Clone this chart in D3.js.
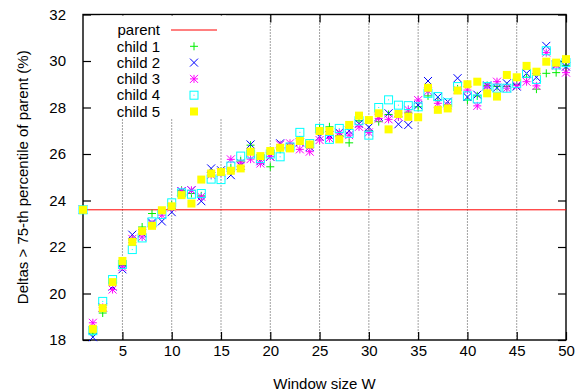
<!DOCTYPE html>
<html>
<head>
<meta charset="utf-8">
<script src="https://cdn.jsdelivr.net/npm/d3@7"></script>
<style>
  body { margin: 0; background: #fff; }
  text { font-family: "Liberation Sans", Arial, sans-serif; }
</style>
</head>
<body>
<div id="chart"></div>
<script>
// Window sizes (x categories)
const windowSizes = [1, 2, 3, 4, 5, 6, 7, 8, 9, 10, 11, 12, 13, 14, 15, 16, 17, 18, 19, 20,
    21, 22, 23, 24, 25, 26, 27, 28, 29, 30, 31, 32, 33, 34, 35, 36, 37, 38, 39, 40,
    41, 42, 43, 44, 45, 46, 47, 48, 49, 50];

const parentValue = 23.6;

const child1 = [23.6, 18.3, 19.16, 20.4, 21.2, 22.3, 22.86, 23.44, 23.5, 23.8, 24.44, 24.3, 24.2, 25.2, 25.25,
    25.4, 25.7, 26.38, 25.8, 25.45, 26.2, 26.35, 26.6, 26.4, 27.1, 27.17, 26.8, 26.48, 27.43, 27.0,
    27.39, 27.7, 27.6, 27.8, 28.03, 28.5, 28.3, 28.1, 28.8, 28.32, 28.5, 28.95, 28.9, 28.9, 29.0,
    29.3, 28.79, 29.47, 29.5, 29.8];
const child2 = [23.6, 18.12, 19.4, 20.3, 21.04, 22.53, 22.6, 23.05, 23.1, 23.5, 24.4, 24.44, 23.97, 25.38, 25.3,
    25.09, 25.5, 26.41, 25.69, 25.88, 26.46, 26.3, 26.5, 26.3, 26.74, 26.8, 26.92, 27.0, 27.3, 27.15,
    27.6, 27.75, 27.28, 27.25, 28.1, 29.14, 28.45, 28.25, 29.26, 28.45, 28.55, 28.95, 28.85, 29.04, 28.9,
    29.47, 29.3, 30.65, 29.85, 29.76];
const child3 = [23.6, 18.74, 19.4, 20.17, 21.14, 22.35, 22.43, 23.0, 23.37, 23.7, 24.4, 24.44, 24.16, 25.1, 25.2,
    25.77, 25.62, 25.78, 25.59, 25.9, 26.4, 26.46, 26.2, 26.1, 26.6, 26.67, 26.9, 26.81, 27.17, 26.93,
    27.53, 27.49, 27.6, 27.9, 28.32, 28.7, 28.18, 28.1, 28.75, 28.75, 28.07, 28.9, 29.11, 28.83, 28.95,
    29.11, 28.93, 30.36, 29.8, 29.5];
const child4 = [23.6, 18.4, 19.66, 20.6, 21.25, 21.89, 22.39, 23.08, 23.4, 23.9, 24.33, 24.27, 24.3, 24.92, 24.9,
    25.48, 25.91, 26.0, 25.8, 26.0, 25.88, 26.3, 26.93, 26.45, 27.1, 26.63, 27.1, 26.89, 27.43, 26.81,
    28.0, 28.33, 28.1, 28.08, 28.03, 28.61, 28.47, 28.2, 28.9, 28.5, 28.37, 28.9, 28.83, 28.83, 29.04,
    29.47, 29.21, 30.44, 29.83, 29.93];
const child5 = [23.6, 18.48, 19.37, 20.49, 21.4, 22.22, 22.68, 22.91, 23.58, 23.75, 24.23, 23.87, 24.9, 25.16, 25.23,
    25.28, 25.38, 26.1, 25.91, 26.13, 26.27, 26.24, 26.56, 26.41, 26.99, 26.99, 26.63, 27.25, 27.65, 27.46,
    27.75, 27.06, 27.72, 27.6, 27.58, 28.85, 27.9, 27.96, 28.73, 29.0, 29.11, 28.61, 28.47, 29.4, 29.3,
    29.79, 29.54, 29.97, 29.93, 30.08];

const xTicks = [5, 10, 15, 20, 25, 30, 35, 40, 45, 50];
const yTicks = [18, 20, 22, 24, 26, 28, 30, 32];

const seriesNames = ["child 1", "child 2", "child 3", "child 4", "child 5"];
const seriesValues = [child1, child2, child3, child4, child5];
const seriesColors = ["#00ee00", "#0000ff", "#ff00ff", "#00ffff", "#ffff00"];
const seriesShapes = ["plus", "cross", "star", "box", "filled"];

const width = 585, height = 392;
const margin = { top: 14.5, right: 19, bottom: 52, left: 83 };
const innerW = width - margin.left - margin.right;
const innerH = height - margin.top - margin.bottom;

const svg = d3.select("#chart").append("svg")
    .attr("width", width)
    .attr("height", height);

const g = svg.append("g")
    .attr("transform", `translate(${margin.left},${margin.top})`);

const x = d3.scaleLinear().domain([1, 50]).range([0, innerW]);
const y = d3.scaleLinear().domain([18, 32]).range([innerH, 0]);

// dotted vertical grid
g.append("g")
    .selectAll("line")
    .data(xTicks.filter(t => t < 50))
    .enter()
    .append("line")
    .attr("x1", d => x(d)).attr("x2", d => x(d))
    .attr("y1", 0).attr("y2", innerH)
    .attr("stroke", "#444")
    .attr("stroke-width", 1)
    .attr("stroke-dasharray", "1,2");

// opaque key box (hides the grid behind the legend)
svg.append("rect")
    .attr("x", 100)
    .attr("y", 15.5)
    .attr("width", 126)
    .attr("height", 103)
    .attr("fill", "#fff");

// axes, ticks pointing inwards on all four sides
const fontSize = "15px";
const xAxis = g.append("g")
    .attr("transform", `translate(0,${innerH})`)
    .call(d3.axisBottom(x).tickValues(xTicks).tickSizeInner(-8).tickSizeOuter(0).tickPadding(5));
const xTop = g.append("g")
    .call(d3.axisTop(x).tickValues(xTicks).tickSizeInner(-8).tickSizeOuter(0).tickFormat(""));
const yAxis = g.append("g")
    .call(d3.axisLeft(y).tickValues(yTicks).tickSizeInner(-8).tickSizeOuter(0).tickPadding(17));
const yRight = g.append("g")
    .attr("transform", `translate(${innerW},0)`)
    .call(d3.axisRight(y).tickValues(yTicks).tickSizeInner(-8).tickSizeOuter(0).tickFormat(""));

[xAxis, xTop, yAxis, yRight].forEach(a => {
    a.select(".domain").remove();
    a.selectAll("line").attr("stroke", "#000").attr("stroke-width", 1.2);
    a.selectAll("text").style("font-size", fontSize).attr("fill", "#000");
});

// border
g.append("rect")
    .attr("x", 0).attr("y", 0)
    .attr("width", innerW).attr("height", innerH)
    .attr("fill", "none")
    .attr("stroke", "#000")
    .attr("stroke-width", 1.4);

// parent line
g.append("line")
    .attr("x1", x(1)).attr("x2", x(50))
    .attr("y1", y(parentValue)).attr("y2", y(parentValue))
    .attr("stroke", "#ff0000")
    .attr("stroke-width", 1);

function drawMarker(sel, shape, color) {
    const s = 4;
    if (shape === "plus") {
        sel.append("path").attr("d", `M${-s},0H${s}M0,${-s}V${s}`)
            .attr("stroke", color).attr("fill", "none");
    } else if (shape === "cross") {
        sel.append("path").attr("d", `M${-s},${-s}L${s},${s}M${-s},${s}L${s},${-s}`)
            .attr("stroke", color).attr("fill", "none");
    } else if (shape === "star") {
        sel.append("path").attr("d", `M${-s},0H${s}M0,${-s}V${s}M${-s},${-s}L${s},${s}M${-s},${s}L${s},${-s}`)
            .attr("stroke", color).attr("fill", "none");
    } else if (shape === "box") {
        sel.append("rect").attr("x", -s).attr("y", -s).attr("width", 2 * s).attr("height", 2 * s)
            .attr("stroke", color).attr("fill", "none");
        sel.append("rect").attr("x", -0.5).attr("y", -0.5).attr("width", 1).attr("height", 1)
            .attr("fill", color);
    } else {
        sel.append("rect").attr("x", -s).attr("y", -s).attr("width", 2 * s).attr("height", 2 * s)
            .attr("fill", color);
    }
}

// points, drawn in series order so child 5 ends up on top
seriesValues.forEach((vals, i) => {
    const pts = g.append("g").selectAll("g")
        .data(windowSizes.map((w, j) => ({ w: w, v: vals[j] })))
        .enter()
        .append("g")
        .attr("transform", d => `translate(${x(d.w)},${y(d.v)})`);
    pts.each(function () { drawMarker(d3.select(this), seriesShapes[i], seriesColors[i]); });
});

// legend
const legend = svg.append("g");
const rowY = i => 30 + i * 16.3;
const legendLabels = ["parent"].concat(seriesNames);
legend.selectAll("text")
    .data(legendLabels)
    .enter()
    .append("text")
    .attr("x", 160)
    .attr("y", (d, i) => rowY(i))
    .attr("dy", "0.35em")
    .attr("text-anchor", "end")
    .style("font-size", fontSize)
    .text(d => d);
legend.append("line")
    .attr("x1", 171).attr("x2", 217)
    .attr("y1", rowY(0)).attr("y2", rowY(0))
    .attr("stroke", "#ff0000");
seriesNames.forEach((n, i) => {
    const m = legend.append("g").attr("transform", `translate(194,${rowY(i + 1)})`);
    drawMarker(m, seriesShapes[i], seriesColors[i]);
});

// axis titles
svg.append("text")
    .attr("x", margin.left + innerW / 2)
    .attr("y", 389)
    .attr("text-anchor", "middle")
    .style("font-size", fontSize)
    .text("Window size W");

svg.append("text")
    .attr("transform", `translate(23,${margin.top + innerH / 2}) rotate(-90)`)
    .attr("dy", "0.35em")
    .attr("text-anchor", "middle")
    .style("font-size", fontSize)
    .text("Deltas > 75-th percentile of parent (%)");
</script>
</body>
</html>
